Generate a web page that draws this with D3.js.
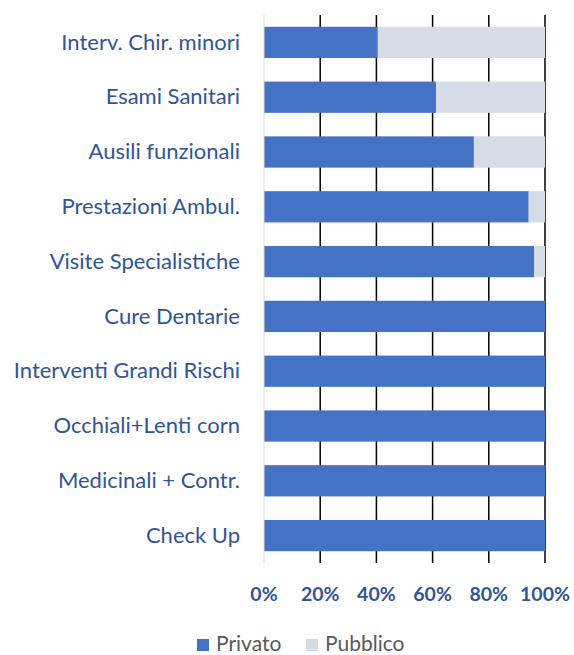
<!DOCTYPE html>
<html>
<head>
<meta charset="utf-8">
<script src="https://cdn.jsdelivr.net/npm/d3@7"></script>
<style>
  body { margin: 0; background: #fff; }
</style>
</head>
<body>
<div id="chart"></div>
<script>
// Horizontal 100% stacked bar: Privato vs Pubblico by service category

const categories = [
  'Interv. Chir. minori',
  'Esami Sanitari',
  'Ausili funzionali',
  'Prestazioni Ambul.',
  'Visite Specialistiche',
  'Cure Dentarie',
  'Interventi Grandi Rischi',
  'Occhiali+Lenti corn',
  'Medicinali + Contr.',
  'Check Up'
];
const privato = [40.5, 61.2, 74.7, 94.2, 96.1, 100, 100, 100, 100, 100];
const pubblico = [59.5, 38.8, 25.3, 5.8, 3.9, 0, 0, 0, 0, 0];
const seriesNames = ['Privato', 'Pubblico'];
const seriesColors = ['#4472C4', '#D6DCE5'];
const ticks = [0, 20, 40, 60, 80, 100];

(function() {
  const W = 574, H = 655;
  const margin = { top: 15, right: 29, bottom: 92, left: 264 };
  const width = W - margin.left - margin.right;
  const height = H - margin.top - margin.bottom;
  const font = 'Lato, "Open Sans", sans-serif';

  const svg = d3.select('#chart').append('svg')
    .attr('width', W)
    .attr('height', H);

  const g = svg.append('g')
    .attr('transform', `translate(${margin.left}, ${margin.top})`);

  const x = d3.scaleLinear().domain([0, 100]).range([0, width]);
  const y = d3.scaleBand().domain(categories).range([0, height]).paddingInner(0.43).paddingOuter(0.215);

  const rows = categories.map((c, i) => ({ cat: c, Privato: privato[i], Pubblico: pubblico[i] }));
  const stacked = d3.stack().keys(seriesNames)(rows);

  // vertical gridlines
  g.selectAll('.grid')
    .data(ticks.slice(1))
    .enter().append('line')
    .attr('x1', d => x(d)).attr('x2', d => x(d))
    .attr('y1', 0).attr('y2', height)
    .attr('stroke', '#000')
    .attr('stroke-width', 1.5);

  // bars
  g.selectAll('.series')
    .data(stacked)
    .enter().append('g')
    .attr('fill', (d, i) => seriesColors[i])
    .selectAll('rect')
    .data(d => d)
    .enter().append('rect')
    .attr('x', d => x(d[0]))
    .attr('width', d => x(d[1]) - x(d[0]))
    .attr('y', d => y(d.data.cat))
    .attr('height', y.bandwidth());

  // axis line on the left
  g.append('line')
    .attr('x1', 0).attr('x2', 0)
    .attr('y1', 0).attr('y2', height)
    .attr('stroke', '#d9d9d9')
    .attr('stroke-width', 1);

  // category labels
  g.selectAll('.cat-label')
    .data(categories)
    .enter().append('text')
    .attr('x', -24)
    .attr('y', d => y(d) + y.bandwidth() / 2)
    .attr('dy', '0.33em')
    .attr('text-anchor', 'end')
    .style('font-family', font)
    .style('font-size', '22px')
    .style('fill', '#2F5597')
    .text(d => d);

  // x tick labels
  g.selectAll('.tick-label')
    .data(ticks)
    .enter().append('text')
    .attr('x', d => x(d))
    .attr('y', height + 38)
    .attr('text-anchor', 'middle')
    .style('font-family', font)
    .style('font-size', '19.5px')
    .style('font-weight', 'bold')
    .style('fill', '#2F5597')
    .text(d => d + '%');

  // legend
  const legend = svg.append('g').attr('transform', 'translate(197, 639)');
  const offsets = [0, 109];
  const items = legend.selectAll('.legend-item')
    .data(seriesNames)
    .enter().append('g')
    .attr('transform', (d, i) => `translate(${offsets[i]}, 0)`);
  items.append('rect')
    .attr('width', 12).attr('height', 12)
    .attr('fill', (d, i) => seriesColors[i]);
  items.append('text')
    .attr('x', 19)
    .attr('y', 12)
    .style('font-family', font)
    .style('font-size', '21px')
    .style('fill', '#595959')
    .text(d => d);
})();
</script>
</body>
</html>
